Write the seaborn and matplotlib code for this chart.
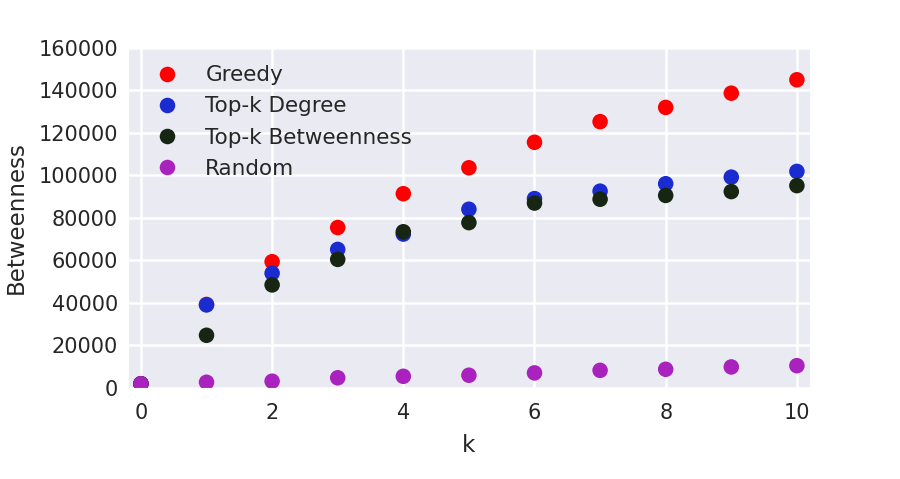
import numpy as np
import pandas as pd
import matplotlib
matplotlib.use("Agg")
import matplotlib.pyplot as plt
import seaborn as sns

# values
k = [0, 1, 2, 3, 4, 5, 6, 7, 8, 9, 10]
greedy = [2000, 39300, 59400, 75500, 91400, 103600, 115600, 125300, 132000, 138700, 145000]
topk_degree = [2000, 39100, 54000, 65200, 72400, 84100, 89100, 92600, 96100, 99200, 101900]
topk_betweenness = [2000, 24800, 48500, 60500, 73500, 77800, 87000, 88800, 90600, 92400, 95200]
random_pick = [2000, 2700, 3200, 4800, 5500, 6000, 7100, 8300, 8800, 9900, 10500]

names = ["Greedy", "Top-k Degree", "Top-k Betweenness", "Random"]
colors = ["#ff0000", "#1a2bd0", "#172612", "#a922bd"]

df = pd.concat([
    pd.DataFrame({"k": k, "Betweenness": greedy, "method": names[0]}),
    pd.DataFrame({"k": k, "Betweenness": topk_degree, "method": names[1]}),
    pd.DataFrame({"k": k, "Betweenness": topk_betweenness, "method": names[2]}),
    pd.DataFrame({"k": k, "Betweenness": random_pick, "method": names[3]}),
], ignore_index=True)

sns.set_style("darkgrid", {"axes.facecolor": "#EAEAF2", "grid.color": "white"})
plt.rcParams["font.family"] = ["DejaVu Sans"]
plt.rcParams["grid.linewidth"] = 1.8

fig, ax = plt.subplots(figsize=(9, 4.79), dpi=100)
fig.subplots_adjust(left=0.142, right=0.9, top=0.9, bottom=0.19)

sns.scatterplot(data=df, x="k", y="Betweenness", hue="method", hue_order=names,
                palette=colors, s=125, linewidth=0, ax=ax)

ax.set_xlim(-0.2, 10.2)
ax.set_ylim(0, 160000)
ax.set_xticks([0, 2, 4, 6, 8, 10])
ax.set_yticks(np.arange(0, 160001, 20000))
ax.tick_params(labelsize=15, length=0)
ax.tick_params(axis="x", pad=11)
ax.tick_params(axis="y", pad=7)
ax.set_xlabel("k", fontsize=16.5, color="#262626", labelpad=8)
ax.set_ylabel("Betweenness", fontsize=16.5, color="#262626", labelpad=8)
for lab in ax.get_xticklabels() + ax.get_yticklabels():
    lab.set_color("#262626")

handles, labels = ax.get_legend_handles_labels()
ax.legend(handles, labels, loc="upper left", frameon=False, fontsize=15.5,
          handletextpad=0.8, labelspacing=0.52, borderaxespad=0.4, markerscale=1.0)

plt.savefig("out.png", dpi=100)
